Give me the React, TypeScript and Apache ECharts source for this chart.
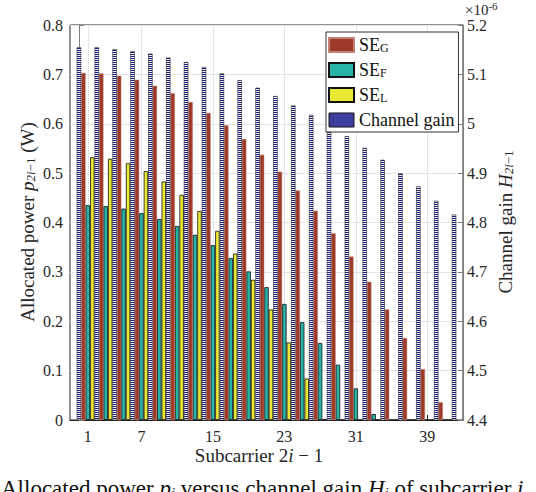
import React, { useEffect, useRef } from 'react';
import * as echarts from 'echarts';

// Subcarrier indices 2i-1 (left-axis groups)
const subcarriers = [1, 3, 5, 7, 9, 11, 13, 15, 17, 19, 21, 23, 25, 27, 29, 31, 33, 35, 37, 39, 41];
// Allocated power (W)
const seG = [0.703, 0.702, 0.697, 0.689, 0.677, 0.662, 0.644, 0.622, 0.597, 0.569, 0.537, 0.503, 0.465, 0.424, 0.378, 0.331, 0.280, 0.224, 0.166, 0.103, 0.036];
const seF = [0.435, 0.433, 0.428, 0.419, 0.407, 0.393, 0.375, 0.354, 0.328, 0.301, 0.269, 0.235, 0.198, 0.156, 0.112, 0.064, 0.012, 0, 0, 0, 0];
const seL = [0.532, 0.529, 0.520, 0.504, 0.483, 0.456, 0.423, 0.383, 0.337, 0.284, 0.224, 0.157, 0.084, 0.001, 0, 0, 0, 0, 0, 0, 0];
// Channel gain bars (×10^-6), drawn at even positions
const gainX = [0, 2, 4, 6, 8, 10, 12, 14, 16, 18, 20, 22, 24, 26, 28, 30, 32, 34, 36, 38, 40, 42];
const channelGain = [5.155, 5.155, 5.151, 5.147, 5.142, 5.134, 5.125, 5.115, 5.102, 5.088, 5.073, 5.056, 5.037, 5.018, 4.997, 4.975, 4.951, 4.927, 4.900, 4.873, 4.844, 4.816];
// Tick labels
const xTicks = [1, 7, 15, 23, 31, 39];

const FONT = 'Liberation Serif';
const TXT = '#262626';
const BAR_OFFSET = 0.5;
const BW = 4.4;

export default function App() {
  const ref = useRef<HTMLDivElement>(null);
  useEffect(() => {
    const chart = echarts.init(ref.current!, null, { renderer: 'svg' });
    const canvas = document.createElement('canvas');
    canvas.width = 2;
    canvas.height = 2;
    const ctx = canvas.getContext('2d')!;
    ctx.fillStyle = '#ffffff';
    ctx.fillRect(0, 0, 2, 2);
    ctx.fillStyle = '#1a1a80';
    ctx.fillRect(0, 0, 2, 1);
    const hatch: any = { image: canvas, repeat: 'repeat' };

    const richTitle = {
      n: { fontFamily: FONT, fontSize: 19, fill: TXT },
      i: { fontFamily: FONT, fontSize: 19, fontStyle: 'italic', fill: TXT },
      s: { fontFamily: FONT, fontSize: 13, fill: TXT, verticalAlign: 'bottom', lineHeight: 13 },
      si: { fontFamily: FONT, fontSize: 13, fontStyle: 'italic', fill: TXT, verticalAlign: 'bottom', lineHeight: 13 },
    };

    const option: any = {
      animation: false,
      backgroundColor: '#ffffff',
      textStyle: { fontFamily: FONT },
      grid: {
        left: 70, right: 73, top: 25, bottom: 72,
        show: true, borderColor: '#262626', borderWidth: 1, backgroundColor: '#ffffff',
      },
      legend: {
        orient: 'vertical',
        left: 326,
        top: 32,
        itemWidth: 25,
        itemHeight: 14,
        itemGap: 7,
        padding: [4, 4, 3, 2],
        borderColor: '#333333',
        borderWidth: 1,
        borderRadius: 0,
        backgroundColor: '#ffffff',
        icon: 'rect',
        textStyle: {
          fontFamily: FONT, fontSize: 18, color: '#111111',
          rich: {
            b: { fontFamily: FONT, fontSize: 18, color: '#111111', lineHeight: 18 },
            s: { fontFamily: FONT, fontSize: 12, color: '#111111', verticalAlign: 'bottom', lineHeight: 12 },
          },
        },
        formatter: (name: string) => {
          if (name.startsWith('SE_')) return '{b|SE}{s|' + name.slice(3) + '}';
          return '{b|' + name + '}';
        },
        data: [
          { name: 'SE_G' },
          { name: 'SE_F' },
          { name: 'SE_L' },
          { name: 'Channel gain', itemStyle: { color: '#3e3ea0', borderColor: '#111111', borderWidth: 1 } },
        ],
      },
      xAxis: {
        type: 'value',
        min: -1,
        max: 43,
        axisLine: { show: true, onZero: false, lineStyle: { color: '#262626', width: 1 } },
        axisTick: { show: true, inside: true, length: 5, customValues: xTicks, lineStyle: { color: '#262626' } },
        axisLabel: { customValues: xTicks, margin: 8, fontFamily: FONT, fontSize: 16, color: TXT },
        splitLine: { show: true, lineStyle: { color: '#e4e4e4', width: 1 } },
      },
      yAxis: [
        {
          type: 'value',
          min: 0, max: 0.8, interval: 0.1,
          axisLine: { show: true, lineStyle: { color: '#808080', width: 1 } },
          axisTick: { show: true, inside: true, length: 5, lineStyle: { color: '#808080' } },
          axisLabel: { margin: 7, fontFamily: FONT, fontSize: 16, color: TXT },
          splitLine: { show: true, lineStyle: { color: '#e4e4e4', width: 1 } },
        },
        {
          type: 'value',
          position: 'right',
          min: 4.4, max: 5.2, interval: 0.1,
          axisLine: { show: true, lineStyle: { color: '#808080', width: 1 } },
          axisTick: { show: true, inside: true, length: 5, lineStyle: { color: '#808080' } },
          axisLabel: { margin: 4, fontFamily: FONT, fontSize: 16, color: TXT },
          splitLine: { show: false },
        },
      ],
      series: [
        {
          name: 'SE_G', type: 'bar', xAxisIndex: 0, yAxisIndex: 0, barWidth: BW, barGap: '-100%', clip: true,
          data: subcarriers.map((s, i) => [s - BAR_OFFSET, seG[i]]),
          itemStyle: { color: '#9e3a29', borderColor: '#c28275', borderWidth: 0.5 },
        },
        {
          name: 'SE_F', type: 'bar', xAxisIndex: 0, yAxisIndex: 0, barWidth: BW, barGap: '-100%', clip: true,
          data: subcarriers.map((s, i) => [s, seF[i]]),
          itemStyle: { color: '#27b3a6', borderColor: '#111111', borderWidth: 0.8 },
        },
        {
          name: 'SE_L', type: 'bar', xAxisIndex: 0, yAxisIndex: 0, barWidth: BW, barGap: '-100%', clip: true,
          data: subcarriers.map((s, i) => [s + BAR_OFFSET, seL[i]]),
          itemStyle: { color: '#e9e933', borderColor: '#111111', borderWidth: 0.8 },
        },
        {
          name: 'Channel gain', type: 'bar', xAxisIndex: 0, yAxisIndex: 1, barWidth: BW, barGap: '-100%', clip: true,
          data: gainX.map((x, i) => [x, channelGain[i]]),
          itemStyle: { color: hatch, borderColor: '#222222', borderWidth: 0.6 },
        },
      ],
      graphic: [
        {
          type: 'text', x: 27, y: 222, rotation: Math.PI / 2,
          style: {
            text: '{n|Allocated power }{i|p}{si|2i}{s|−1}{n| (W)}',
            rich: richTitle, align: 'center', verticalAlign: 'middle', fill: TXT,
          },
        },
        {
          type: 'text', x: 505, y: 222, rotation: Math.PI / 2,
          style: {
            text: '{n|Channel gain }{i|H}{si|2i}{s|−1}',
            rich: richTitle, align: 'center', verticalAlign: 'middle', fill: TXT,
          },
        },
        {
          type: 'text', x: 259, y: 455,
          style: {
            text: '{n|Subcarrier 2}{i|i}{n| − 1}',
            rich: richTitle, align: 'center', verticalAlign: 'middle', fill: TXT,
          },
        },
        {
          type: 'text', x: 465, y: 0,
          style: {
            text: '{n|×10}{sup|-6}',
            rich: {
              n: { fontFamily: FONT, fontSize: 15, fill: TXT, verticalAlign: 'bottom', lineHeight: 17 },
              sup: { fontFamily: FONT, fontSize: 11, fill: TXT, verticalAlign: 'top', lineHeight: 12 },
            },
            align: 'left', verticalAlign: 'top', fill: TXT,
          },
        },
        {
          type: 'text', x: 1, y: 477,
          style: {
            text: '{n|Allocated power }{i|p}{si|i}{n| versus channel gain }{i|H}{si|i}{n| of subcarrier }{i|i}',
            rich: {
              n: { fontFamily: FONT, fontSize: 23, fill: '#111111' },
              i: { fontFamily: FONT, fontSize: 23, fontStyle: 'italic', fill: '#111111' },
              si: { fontFamily: FONT, fontSize: 15, fontStyle: 'italic', fill: '#111111', verticalAlign: 'bottom', lineHeight: 15 },
            },
            align: 'left', verticalAlign: 'top', fill: '#111111',
          },
        },
      ],
    };
    chart.setOption(option);
    return () => chart.dispose();
  }, []);
  return <div ref={ref} style={{ position: 'absolute', left: 0, top: 0, width: 536, height: 492 }} />;
}
